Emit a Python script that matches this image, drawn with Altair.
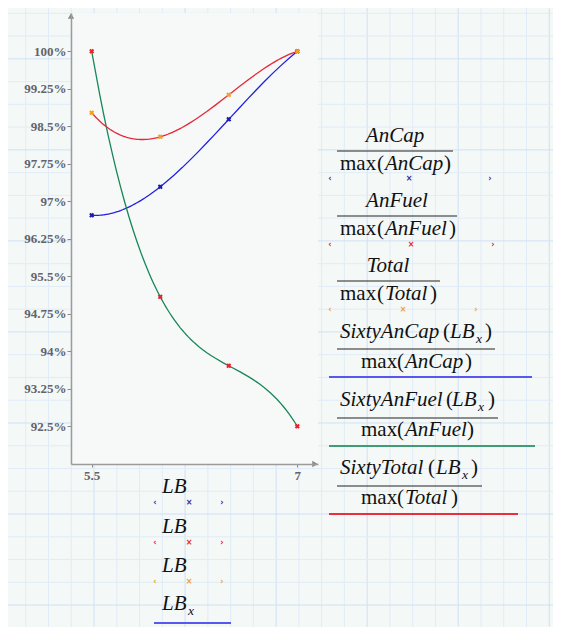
import altair as alt
import pandas as pd

# ---------------- data ----------------
LB = [5.5, 6.0, 6.5, 7.0]
AnCap_rel = [96.72, 97.29, 98.64, 100.0]     # AnCap / max(AnCap)  in %
AnFuel_rel = [100.0, 95.09, 93.71, 92.5]     # AnFuel / max(AnFuel) in %
Total_rel = [98.77, 98.29, 99.13, 100.0]     # Total / max(Total)  in %
series_names = ["AnCap", "AnFuel", "Total"]
line_names = ["SixtyAnCap", "SixtyAnFuel", "SixtyTotal"]
y_ticks = [92.5, 93.25, 94.0, 94.75, 95.5, 96.25, 97.0, 97.75, 98.5, 99.25, 100.0]
x_ticks = [5.5, 7.0]

# ---------------- styling / layout ----------------
marker_colors = {"AnCap": "#1c1ca8", "AnFuel": "#e8232a", "Total": "#f2a01e"}
line_colors = {"SixtyAnCap": "#2020e4", "SixtyAnFuel": "#17875a", "SixtyTotal": "#e8273a"}
OX, OY = 71, 13          # page position of plot origin
W, H = 247, 451          # plot area
X_DOM = [5.349, 7.151]
Y_DOM = [91.746, 100.766]
SERIF = "Liberation Serif"
FS = 21
AX_FS = 13

rows = []
for name, line, vals in zip(series_names, line_names, [AnCap_rel, AnFuel_rel, Total_rel]):
    for lb, v in zip(LB, vals):
        rows.append({"LB": lb, "pct": v, "series": name, "line": line,
                     "mcol": marker_colors[name], "lcol": line_colors[line]})
pts = pd.DataFrame(rows)

xenc = alt.X("LB:Q", scale=alt.Scale(domain=X_DOM, nice=False, zero=False),
             axis=alt.Axis(values=x_ticks, labelExpr="format(datum.value, '.2~f')",
                           title=None, grid=False,
                           domainColor="#9b9b9b", domainWidth=1.5, tickColor="#8a8a8a",
                           tickSize=3, labelFont=SERIF, labelFontWeight="bold",
                           labelFontSize=AX_FS, labelColor="#63636c", labelPadding=2, zindex=1))
yenc = alt.Y("pct:Q", scale=alt.Scale(domain=Y_DOM, nice=False, zero=False),
             axis=alt.Axis(values=y_ticks, labelExpr="format(datum.value, '.2~f') + '%'",
                           title=None, grid=False, domainColor="#9b9b9b", domainWidth=1.5,
                           tickColor="#8a8a8a", tickSize=4, labelFont=SERIF,
                           labelFontWeight="bold", labelFontSize=AX_FS, labelColor="#63636c",
                           labelPadding=1, zindex=1))

# ---------------- background graph paper ----------------
vgrid = pd.DataFrame({"gx": [3 + 22.76 * k - OX for k in range(25)],
                      "gc": ["#cfe1f5" if k % 4 == 0 else "#e1ecf8" for k in range(25)]})
hgrid = pd.DataFrame({"gy": [13.3 + 22.76 * k - OY for k in range(28)],
                      "gc": ["#cfe1f5" if k % 4 == 2 else "#e1ecf8" for k in range(28)]})
grid_v = alt.Chart(vgrid).mark_rule(strokeWidth=1).encode(
    x=alt.X("gx:Q", scale=None, axis=None), y=alt.value(-OY), y2=alt.value(640),
    color=alt.Color("gc:N", scale=None))
grid_h = alt.Chart(hgrid).mark_rule(strokeWidth=1).encode(
    y=alt.Y("gy:Q", scale=None, axis=None), x=alt.value(-OX), x2=alt.value(500),
    color=alt.Color("gc:N", scale=None))
one = pd.DataFrame({"a": [0]})
plot_bg = alt.Chart(one).mark_rect(color="#f6f9f7").encode(
    x=alt.value(0), x2=alt.value(W), y=alt.value(0), y2=alt.value(H))

# ---------------- data layers ----------------
curves = alt.Chart(pts).transform_regression(
    "LB", "pct", method="poly", order=3, groupby=["line", "lcol"]
).mark_line(strokeWidth=1.3).encode(
    x=xenc, y=yenc, color=alt.Color("lcol:N", scale=None), detail="line:N")
markers = alt.Chart(pts).mark_point(shape="cross", angle=45, filled=True, size=26,
                                    opacity=1, strokeWidth=0).encode(
    x=xenc, y=yenc, color=alt.Color("mcol:N", scale=None))

arrow_up = alt.Chart(one).mark_point(shape="triangle-up", filled=True, size=40,
                                     color="#8a8a8a", opacity=1).encode(
    x=alt.value(0), y=alt.value(3))
arrow_right = alt.Chart(one).mark_point(shape="triangle-right", filled=True, size=40,
                                        color="#8a8a8a", opacity=1).encode(
    x=alt.value(W - 3), y=alt.value(H))

# ---------------- legend texts (page coordinates) ----------------
num_center = [("AnCap", 395, 142), ("AnFuel", 397, 207), ("Total", 388, 272)]
italic_left = [
    ("AnCap", 385, 170), ("AnFuel", 385, 235), ("Total", 385, 300),
    ("SixtyAnCap", 340, 338), ("LB", 450, 338), ("AnCap", 405, 368),
    ("SixtyAnFuel", 340, 406), ("LB", 452, 406), ("AnFuel", 405, 436),
    ("SixtyTotal", 340, 474), ("LB", 436, 474), ("Total", 405, 504),
    ("LB", 162, 493), ("LB", 162, 533), ("LB", 162, 572), ("LB", 162, 610),
]
roman_left = [
    ("max", 340, 170), ("(", 377, 170), (")", 444, 170),
    ("max", 340, 235), ("(", 377, 235), (")", 449, 235),
    ("max", 340, 300), ("(", 377, 300), (")", 430, 300),
    ("(", 443, 338), (")", 485, 338),
    ("max", 361, 368), ("(", 397, 368), (")", 465, 368),
    ("(", 446, 406), (")", 488, 406),
    ("max", 361, 436), ("(", 397, 436), (")", 467, 436),
    ("(", 428, 474), (")", 471, 474),
    ("max", 361, 504), ("(", 397, 504), (")", 451, 504),
]
subs = [("x", 476, 343), ("x", 478, 411), ("x", 462, 479), ("x", 188, 615)]

def tdf(items):
    return pd.DataFrame({"t": [a for a, _, _ in items],
                         "px": [b - OX for _, b, _ in items],
                         "py": [c - OY for _, _, c in items]})

def text_layer(items, align, style, size):
    return alt.Chart(tdf(items)).mark_text(
        align=align, baseline="alphabetic", font=SERIF, fontStyle=style,
        fontSize=size, color="#111111").encode(
        x=alt.X("px:Q", scale=None, axis=None), y=alt.Y("py:Q", scale=None, axis=None),
        text="t:N")

t_num = text_layer(num_center, "center", "italic", FS)
t_it = text_layer(italic_left, "left", "italic", FS)
t_rm = text_layer(roman_left, "left", "normal", FS)
t_sub = text_layer(subs, "left", "italic", 13.5)

frac = [(337, 453, 151), (337, 457, 216), (337, 440, 281),
        (337, 495, 349), (337, 498, 418), (337, 482, 486)]
frac_df = pd.DataFrame({"x1": [a - OX for a, _, _ in frac], "x2": [b - OX for _, b, _ in frac],
                        "yy": [c - OY for _, _, c in frac]})
frac_rules = alt.Chart(frac_df).mark_rule(color="#222222", strokeWidth=1).encode(
    x=alt.X("x1:Q", scale=None, axis=None), x2="x2:Q",
    y=alt.Y("yy:Q", scale=None, axis=None))

swatch = [(329, 532, 377, "#5858f0"), (329, 535, 446, "#3f9c76"),
          (329, 518, 514, "#ec2d3e"), (154, 231, 623, "#5858f0")]
sw_df = pd.DataFrame({"x1": [s[0] - OX for s in swatch], "x2": [s[1] - OX for s in swatch],
                      "yy": [s[2] - OY for s in swatch], "c": [s[3] for s in swatch]})
sw_rules = alt.Chart(sw_df).mark_rule(strokeWidth=2.2).encode(
    x=alt.X("x1:Q", scale=None, axis=None), x2="x2:Q",
    y=alt.Y("yy:Q", scale=None, axis=None), color=alt.Color("c:N", scale=None))

glyph_rows = [(179, [330, 409, 490], "#2a2aa8"), (245, [330, 411, 493], "#e8232a"),
              (310, [330, 403, 476], "#f2a01e"), (503, [155, 189, 222], "#2a2aa8"),
              (543, [155, 189, 222], "#e8232a"), (582, [155, 189, 222], "#f2a01e")]
g_rows = []
for yy, xs, c in glyph_rows:
    for g, xx in zip(["\u2039", "\u00d7", "\u203a"], xs):
        g_rows.append({"t": g, "px": xx - OX, "py": yy - OY, "c": c})
g_df = pd.DataFrame(g_rows)
glyphs = alt.Chart(g_df).mark_text(align="center", baseline="middle", font="DejaVu Sans",
                                   fontSize=8, fontWeight="bold").encode(
    x=alt.X("px:Q", scale=None, axis=None), y=alt.Y("py:Q", scale=None, axis=None),
    text="t:N", color=alt.Color("c:N", scale=None))

chart = alt.layer(
    grid_v, grid_h, plot_bg, curves, markers, arrow_up, arrow_right,
    frac_rules, sw_rules, t_num, t_it, t_rm, t_sub, glyphs
).properties(
    width=W, height=H,
    autosize=alt.AutoSizeParams(type="none"),
    padding={"left": OX - 8, "top": OY - 8, "right": 545 - (OX - 8) - W,
             "bottom": 619 - (OY - 8) - H},
    background="#f4f8f6",
).configure_view(stroke=None)

chart.save("out.html", embed_options={"renderer": "svg", "actions": False})
